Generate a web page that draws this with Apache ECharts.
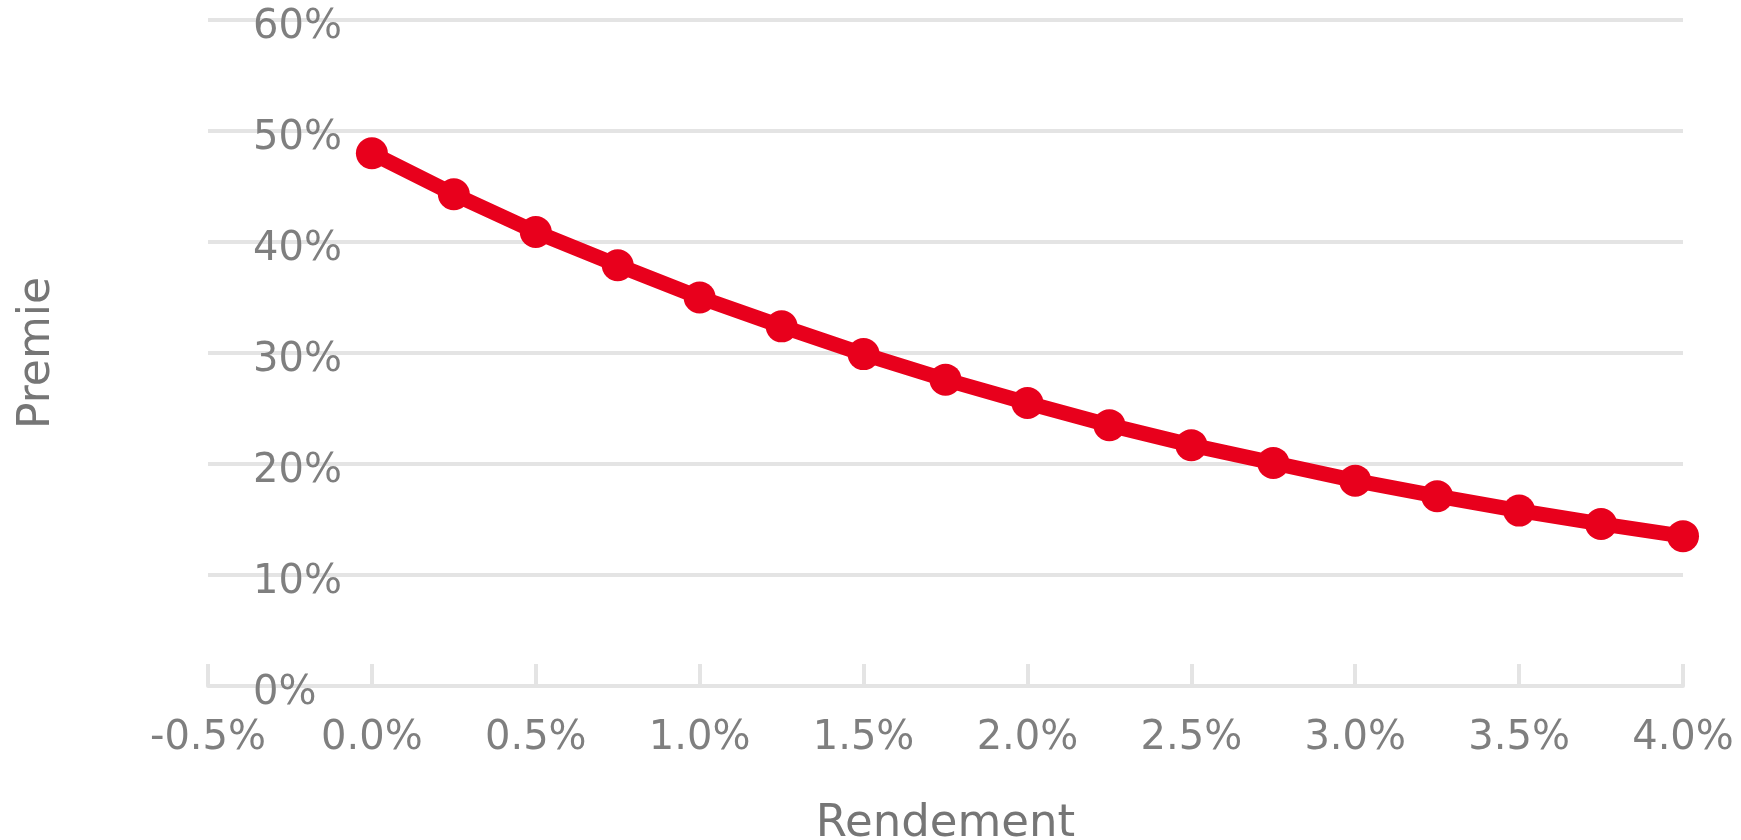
<!DOCTYPE html>
<html>
<head>
<meta charset="utf-8">
<script src="https://cdn.jsdelivr.net/npm/echarts@6/dist/echarts.min.js"></script>
<style>
  html, body { margin: 0; padding: 0; background: #ffffff; }
  #chart { width: 1741px; height: 840px; }
</style>
</head>
<body>
<div id="chart"></div>
<script>
// Rendement (%) against the required premie (%)
const rendement = [0.0, 0.25, 0.5, 0.75, 1.0, 1.25, 1.5, 1.75, 2.0, 2.25, 2.5, 2.75, 3.0, 3.25, 3.5, 3.75, 4.0];
const premie = [48.0, 44.3, 40.9, 37.9, 35.0, 32.4, 29.9, 27.6, 25.5, 23.5, 21.7, 20.1, 18.5, 17.1, 15.8, 14.6, 13.5];

const xTicks = { min: -0.5, max: 4.0, step: 0.5 };
const yTicks = { min: 0, max: 60, step: 10 };

const FONT = 'DejaVu Sans';
const GRID_GREY = '#e4e4e4';
const LABEL_GREY = '#7f7f7f';
const RED = '#e8001c';

const points = rendement.map((r, i) => [r, premie[i]]);

const chart = echarts.init(document.getElementById('chart'), null, { renderer: 'canvas' });
chart.setOption({
  animation: false,
  backgroundColor: '#ffffff',
  grid: { left: 208, right: 58, top: 20, bottom: 154, containLabel: false, outerBoundsMode: 'none' },
  xAxis: {
    type: 'value',
    min: xTicks.min,
    max: xTicks.max,
    interval: xTicks.step,
    name: 'Rendement',
    nameLocation: 'middle',
    nameGap: 116,
    nameTextStyle: { fontFamily: FONT, fontSize: 45, color: '#767676' },
    axisLine: { show: true, lineStyle: { color: GRID_GREY, width: 4 } },
    axisTick: { show: true, inside: true, length: 22, lineStyle: { color: GRID_GREY, width: 4 } },
    splitLine: { show: false },
    axisLabel: {
      margin: 33,
      fontFamily: FONT,
      fontSize: 40,
      color: LABEL_GREY,
      formatter: v => v.toFixed(1) + '%'
    }
  },
  yAxis: {
    type: 'value',
    min: yTicks.min,
    max: yTicks.max,
    interval: yTicks.step,
    name: 'Premie',
    nameLocation: 'middle',
    nameRotate: 90,
    nameGap: 148,
    nameTextStyle: { fontFamily: FONT, fontSize: 44, color: '#767676' },
    axisLine: { show: false },
    axisTick: { show: false },
    splitLine: { show: true, lineStyle: { color: GRID_GREY, width: 4 } },
    axisLabel: {
      inside: true,
      margin: 45,
      verticalAlign: 'top',
      lineHeight: 16,
      fontFamily: FONT,
      fontSize: 40,
      color: LABEL_GREY,
      formatter: '{value}%'
    }
  },
  series: [{
    type: 'line',
    data: points,
    symbol: 'circle',
    symbolSize: 32,
    showSymbol: true,
    itemStyle: { color: RED },
    lineStyle: { color: RED, width: 15 },
    z: 3
  }]
});
</script>
</body>
</html>
